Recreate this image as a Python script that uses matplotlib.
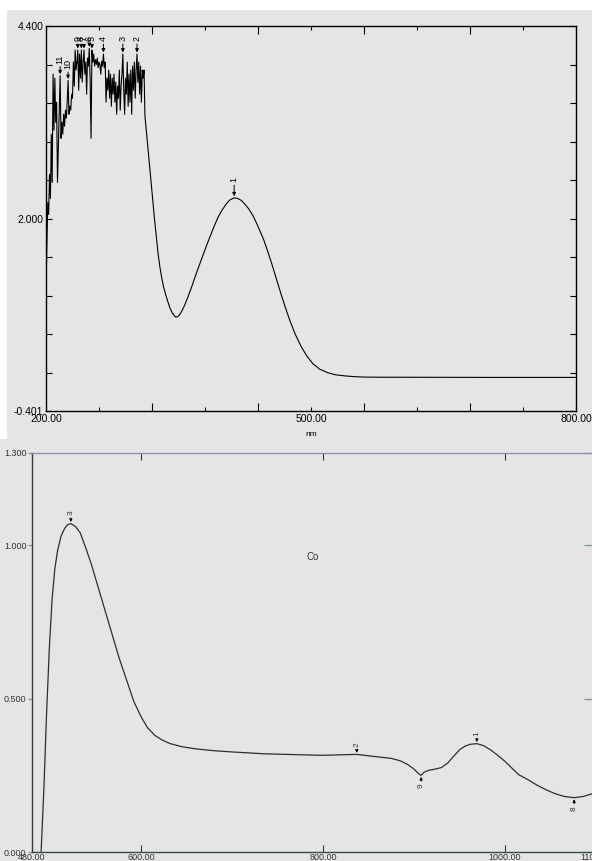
import matplotlib
matplotlib.use("Agg")
import matplotlib.pyplot as plt
from matplotlib.patches import Rectangle
from matplotlib.ticker import FixedLocator, FixedFormatter, NullFormatter

plt.rcParams['font.family'] = ['Liberation Sans Narrow', 'Liberation Sans', 'DejaVu Sans']

# ---- espectro superior (200-800 nm) ----
# zona ruidosa 200-311 nm, un punto por nm
ruido_nm = list(range(200, 312))
ruido_abs = [1.15, 1.70, 2.20, 2.05, 2.55, 2.25, 3.05, 2.45, 3.80, 3.10,
             3.75, 3.20, 3.45, 2.45, 2.90, 3.40, 3.78, 3.00, 3.20, 3.05,
             3.30, 3.15, 3.35, 3.25, 3.45, 3.72, 3.30, 3.40, 3.35, 3.55,
             3.50, 3.95, 3.65, 4.10, 3.85, 3.95, 4.10, 3.60, 4.05, 3.75,
             4.10, 3.70, 3.95, 4.10, 3.80, 3.95, 3.55, 4.00, 3.90, 4.12,
             3.70, 3.00, 4.10, 3.95, 4.05, 3.90, 3.98, 3.92, 4.00, 3.88,
             3.95, 3.92, 3.80, 3.96, 3.90, 4.05, 3.88, 3.95, 3.45, 3.75,
             3.60, 3.85, 3.50, 3.80, 3.40, 3.75, 3.55, 3.80, 3.45, 3.70,
             3.30, 3.65, 3.50, 3.85, 3.35, 3.65, 3.80, 4.05, 3.60, 3.30,
             3.75, 3.55, 3.95, 3.40, 3.80, 3.45, 3.85, 3.30, 3.90, 3.60,
             3.95, 3.50, 3.85, 4.05, 3.70, 3.95, 3.55, 3.90, 3.45, 3.85,
             3.75, 3.85]
# parte suave
suave_nm = [312, 315, 318, 320, 322.6, 325, 327, 329, 331, 333, 335.5, 338,
            340.5, 343, 345, 347, 349, 351, 354, 357, 361, 365, 370, 374, 378,
            382, 387, 391, 395, 399, 404, 408, 413, 417, 421, 425, 429.5, 434,
            438, 442, 446.6, 451, 456, 461, 466, 471, 476, 482, 489, 495, 502,
            510, 519, 528, 540, 550, 560, 580, 600, 700, 800]
suave_abs = [3.28, 2.93, 2.57, 2.33, 2.02, 1.76, 1.55, 1.39, 1.26, 1.15, 1.05,
             0.96, 0.88, 0.82, 0.79, 0.77, 0.775, 0.795, 0.85, 0.92, 1.03, 1.15,
             1.31, 1.43, 1.55, 1.67, 1.81, 1.92, 2.02, 2.10, 2.18, 2.23, 2.257,
             2.25, 2.225, 2.18, 2.12, 2.04, 1.95, 1.85, 1.73, 1.59, 1.42, 1.24,
             1.06, 0.89, 0.73, 0.56, 0.40, 0.29, 0.19, 0.12, 0.076, 0.05, 0.035,
             0.027, 0.022, 0.02, 0.02, 0.018, 0.018]

picos_sup_nm = [413, 303, 287, 265, 252, 249, 243, 240, 236, 225, 216]
picos_sup_abs = [2.257, 4.05, 4.05, 4.05, 4.10, 4.12, 4.10, 4.10, 4.10, 3.72, 3.78]
picos_sup_lab = ['1', '2', '3', '4', '5', '6', '7', '8', '9', '10', '11']
picos_sup_txt = [2.45, 4.21, 4.21, 4.21, 4.21, 4.21, 4.21, 4.21, 4.21, 3.86, 3.93]

# ---- espectro inferior (480-1100 nm), Co ----
co_nm = [490, 493, 496, 499, 502, 505, 508, 512, 516, 519, 522.7, 528, 533,
         538, 545, 552, 560, 568, 576, 584, 592, 600, 607, 615, 623, 632, 645,
         660, 680, 700, 735, 798, 837, 860, 875, 885, 893, 900, 905, 907.8,
         911, 916, 923, 930, 937, 943, 950, 956, 962, 969, 976, 984, 992,
         1000, 1008, 1015, 1025, 1035, 1045, 1055, 1065, 1076, 1086, 1096, 1100]
co_abs = [0.0, 0.20, 0.45, 0.66, 0.82, 0.92, 0.98, 1.03, 1.055, 1.066, 1.07,
          1.06, 1.04, 1.00, 0.94, 0.87, 0.79, 0.71, 0.63, 0.56, 0.49, 0.44,
          0.405, 0.38, 0.365, 0.353, 0.343, 0.336, 0.330, 0.326, 0.32, 0.315,
          0.318, 0.31, 0.305, 0.297, 0.285, 0.27, 0.255, 0.25, 0.26, 0.266,
          0.27, 0.275, 0.29, 0.31, 0.333, 0.345, 0.351, 0.353, 0.347, 0.333,
          0.315, 0.295, 0.272, 0.252, 0.236, 0.218, 0.203, 0.19, 0.181, 0.177,
          0.181, 0.19, 0.195]

picos_inf_nm = [969, 837, 522.7, 907.8, 1076]
picos_inf_abs = [0.353, 0.318, 1.07, 0.25, 0.177]
picos_inf_lab = ['1', '2', '3', '9', '8']
picos_inf_txt = [0.378, 0.343, 1.097, 0.222, 0.148]

fondo = '#e5e5e5'
fig = plt.figure(figsize=(5.92, 8.61), dpi=100, facecolor=fondo)

# margenes blancos del escaneo
fig.add_artist(Rectangle((0, 1 - 10 / 861), 1, 10 / 861, transform=fig.transFigure,
                         facecolor='white', edgecolor='none', zorder=0))
fig.add_artist(Rectangle((0, 1 - 439 / 861), 7 / 592, 439 / 861, transform=fig.transFigure,
                         facecolor='white', edgecolor='none', zorder=0))

# ================= panel superior =================
ax1 = fig.add_axes([46 / 592, 1 - 411 / 861, 530 / 592, 385 / 861])
ax1.set_facecolor('none')
ax1.plot(ruido_nm + suave_nm, ruido_abs + suave_abs, color='black', lw=0.8)
ax1.set_xlim(200, 800)
ax1.set_ylim(-0.401, 4.400)

ax1.xaxis.set_major_locator(FixedLocator([320, 440, 560, 680]))
ax1.xaxis.set_major_formatter(NullFormatter())
ax1.xaxis.set_minor_locator(FixedLocator([200, 260, 380, 500, 620, 740, 800]))
ax1.xaxis.set_minor_formatter(FixedFormatter(['200.00', '', '', '500.00', '', '', '800.00']))
ax1.tick_params(axis='x', which='major', direction='in', length=6, width=0.8,
                top=True, bottom=True)
ax1.tick_params(axis='x', which='minor', direction='in', length=3, width=0.8,
                top=True, bottom=True, labelsize=7.5, pad=2)
yt = [-0.401 + i * 0.4801 for i in range(11)]
ax1.set_yticks(yt)
ax1.set_yticklabels(['-0.401', '', '', '', '', '2.000', '', '', '', '', '4.400'])
ax1.tick_params(axis='y', direction='in', length=4, width=0.8, left=True, right=True,
                labelsize=7.5, pad=2)
for s in ax1.spines.values():
    s.set_linewidth(1.0)
ax1.text(500, -0.401 - 0.25, 'nm', ha='center', va='top', fontsize=6)

for x, y, lab, yt_ in zip(picos_sup_nm, picos_sup_abs, picos_sup_lab, picos_sup_txt):
    ax1.annotate(lab, xy=(x, y + 0.02), xytext=(x, yt_), rotation=90,
                 ha='center', va='bottom', fontsize=6.5,
                 arrowprops=dict(arrowstyle='-|>', color='black', lw=0.7,
                                 mutation_scale=5, shrinkA=0, shrinkB=0))

# ================= panel inferior =================
ax2 = fig.add_axes([32 / 592, 1 - 852 / 861, 564 / 592, 399 / 861])
ax2.set_facecolor('none')
ax2.plot(co_nm, co_abs, color='#2e2e2e', lw=0.9)
ax2.set_xlim(480, 1100)
ax2.set_ylim(0, 1.3)
ax2.set_xticks([480, 600, 800, 1000, 1100])
ax2.set_xticklabels(['480.00', '600.00', '800.00', '1000.00', '1100.00'])
ax2.set_yticks([0, 0.5, 1.0, 1.3])
ax2.set_yticklabels(['0.000', '0.500', '1.000', '1.300'])
ax2.tick_params(axis='x', direction='in', length=5, width=0.8, top=True, bottom=True,
                labelsize=6.5, pad=1, labelcolor='#333333', color='#333333')
ax2.tick_params(axis='y', direction='out', length=3, width=0.9, left=True, right=True,
                labelsize=6.5, pad=1, labelcolor='#333333', color='#7aa07a')
ax2.tick_params(axis='y', which='major', right=True)
# marcas derechas hacia dentro, con colores del escaneo
for t, c in zip(ax2.yaxis.get_major_ticks(), ['none', '#c07070', '#7aa07a', 'none']):
    t.tick2line.set_color(c)
    t.tick2line.set_markersize(9)
    t.tick2line.set_marker(0)
ax2.spines['top'].set_color('#9a8fa8')
ax2.spines['left'].set_color('#3a3a3a')
ax2.spines['bottom'].set_color('#3a4a44')
ax2.spines['right'].set_color('#3a3a3a')
for s in ax2.spines.values():
    s.set_linewidth(1.0)
ax2.text(789, 0.96, 'Co', ha='center', va='center', fontsize=7, color='#333333')

for x, y, lab, yt_ in zip(picos_inf_nm, picos_inf_abs, picos_inf_lab, picos_inf_txt):
    abajo = yt_ < y
    ax2.annotate(lab, xy=(x, y + (-0.005 if abajo else 0.005)), xytext=(x, yt_),
                 rotation=90, ha='center', va='top' if abajo else 'bottom',
                 fontsize=6, color='#333333',
                 arrowprops=dict(arrowstyle='-|>', color='black', lw=0.7,
                                 mutation_scale=4, shrinkA=0, shrinkB=0))

fig.savefig('out.png', dpi=100, facecolor=fondo)
